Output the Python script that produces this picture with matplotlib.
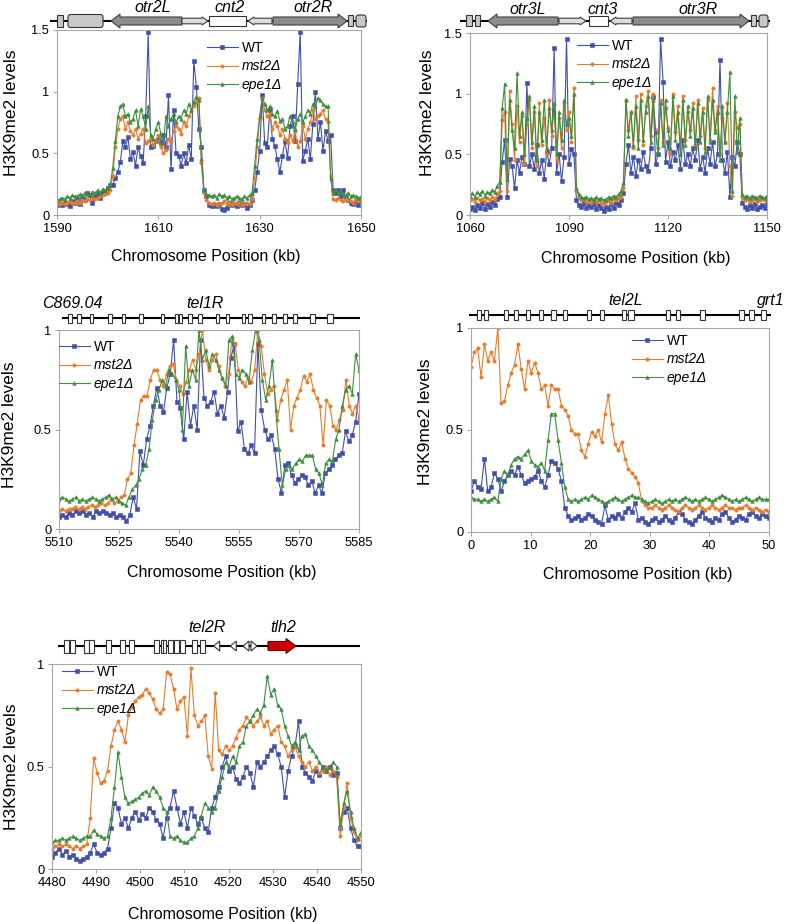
"""
H3K9me2 ChIP-chip profiles at pericentromeric and subtelomeric regions
"""

import numpy as np
import matplotlib
matplotlib.use("Agg")
import matplotlib.pyplot as plt
from matplotlib.patches import Polygon, Rectangle, FancyBboxPatch

plt.rcParams["font.family"] = ["Liberation Sans", "DejaVu Sans"]

# ---------------- data (H3K9me2 levels, evenly spaced probes) ----------------
# chr2 centromere, 1590-1650 kb
P1_RANGE = (1590, 1650)
P1_WT = [
    0.08, 0.09, 0.08, 0.10, 0.09, 0.07, 0.11, 0.10, 0.13, 0.09, 0.14, 0.12, 0.18, 0.16, 0.10, 0.15, 0.17, 0.14, 0.19, 0.18, 0.22, 0.24,
    0.24, 0.30, 0.35, 0.43, 0.60, 0.55, 0.63, 0.45, 0.51, 0.40, 0.55, 0.48, 0.42, 0.80, 1.48, 0.55, 0.56, 0.60, 0.62, 0.58,
    0.65, 0.55, 0.97, 0.37, 0.85, 0.50, 0.48, 0.40, 0.50, 0.42, 0.57, 0.45, 1.25, 1.04, 0.70, 0.55, 0.20,
    0.15, 0.08, 0.07, 0.08, 0.07, 0.09, 0.05, 0.04, 0.06, 0.10, 0.08, 0.09, 0.07, 0.10, 0.08, 0.09, 0.06, 0.08, 0.12, 0.20, 0.35, 0.52,
    0.97, 0.58, 0.55, 0.86, 0.62, 0.56, 0.45, 0.35, 0.48, 0.60, 0.46, 0.72, 0.80, 0.60, 1.06, 1.48, 0.44, 0.52, 0.62, 0.45,
    0.74, 1.00, 0.62, 0.75, 0.52, 0.68, 0.60, 0.65, 0.20, 0.18, 0.20, 0.15, 0.20, 0.14, 0.12, 0.10, 0.09, 0.11, 0.08, 0.12]
P1_MST2 = [
    0.09, 0.09, 0.10, 0.09, 0.10, 0.11, 0.10, 0.10, 0.11, 0.10, 0.12, 0.11, 0.13, 0.12, 0.14, 0.13, 0.14, 0.15, 0.16, 0.17, 0.18, 0.20,
    0.32, 0.55, 0.70, 0.78, 0.80, 0.70, 0.75, 0.68, 0.65, 0.70, 0.62, 0.66, 0.70, 0.58, 0.60, 0.62, 0.57, 0.60, 0.65, 0.55,
    0.50, 0.53, 0.62, 0.60, 0.68, 0.72, 0.70, 0.66, 0.75, 0.72, 0.80, 0.84, 0.88, 0.92, 0.95, 0.42, 0.18,
    0.12, 0.10, 0.09, 0.10, 0.08, 0.09, 0.10, 0.11, 0.09, 0.10, 0.08, 0.10, 0.09, 0.10, 0.08, 0.09, 0.10, 0.09, 0.13, 0.30, 0.55, 0.78,
    0.95, 0.85, 0.80, 0.82, 0.70, 0.75, 0.72, 0.65, 0.70, 0.62, 0.58, 0.65, 0.60, 0.68, 0.55, 0.60, 0.72, 0.62, 0.70, 0.75,
    0.85, 0.78, 0.80, 0.82, 0.85, 0.78, 0.75, 0.32, 0.13, 0.12, 0.14, 0.12, 0.11, 0.13, 0.12, 0.11, 0.10, 0.12, 0.11, 0.12]
P1_EPE1 = [
    0.12, 0.13, 0.14, 0.13, 0.15, 0.14, 0.16, 0.15, 0.15, 0.17, 0.16, 0.18, 0.17, 0.16, 0.19, 0.18, 0.20, 0.18, 0.21, 0.20, 0.22, 0.24,
    0.38, 0.60, 0.80, 0.88, 0.90, 0.80, 0.82, 0.75, 0.78, 0.85, 0.72, 0.86, 0.80, 0.70, 0.88, 0.65, 0.62, 0.70, 0.75, 0.66,
    0.58, 0.80, 0.72, 0.78, 0.82, 0.75, 0.80, 0.78, 0.85, 0.82, 0.90, 0.85, 0.92, 0.96, 0.93, 0.45, 0.20,
    0.17, 0.16, 0.15, 0.16, 0.14, 0.17, 0.15, 0.16, 0.14, 0.15, 0.13, 0.14, 0.15, 0.14, 0.13, 0.15, 0.14, 0.16, 0.18, 0.40, 0.62, 0.80,
    0.95, 0.90, 0.85, 0.88, 0.82, 0.80, 0.84, 0.76, 0.78, 0.70, 0.72, 0.80, 0.75, 0.70, 0.78, 0.82, 0.75, 0.80, 0.85, 0.82,
    0.90, 0.88, 0.95, 0.93, 0.90, 0.88, 0.88, 0.30, 0.18, 0.20, 0.18, 0.19, 0.17, 0.16, 0.18, 0.15, 0.16, 0.15, 0.14, 0.15]

# chr3 centromere, 1060-1150 kb
P2_RANGE = (1060, 1150)
P2_WT = [
    0.05, 0.07, 0.04, 0.08, 0.06, 0.10, 0.05, 0.09, 0.07, 0.11, 0.08, 0.13, 0.15,
    0.44, 0.62, 0.15, 0.46, 0.40, 0.22, 0.45, 0.35, 0.48, 0.42,
    1.09, 0.40, 0.50, 0.38, 0.58, 0.35, 0.45, 0.30, 0.52, 0.42,
    0.55, 1.38, 0.35, 0.50, 0.28, 0.48, 1.45, 0.42, 0.54, 0.50,
    0.12, 0.08, 0.07, 0.10, 0.06, 0.08, 0.07, 0.09, 0.05, 0.08, 0.06, 0.03, 0.07, 0.05, 0.09, 0.06, 0.10, 0.08, 0.12, 0.18,
    0.42, 0.58, 0.35, 0.48, 0.32, 0.45, 0.38, 0.52, 0.40, 0.36,
    0.55, 0.97, 0.42, 0.50, 1.45, 1.10, 0.44, 0.60, 0.40, 0.52,
    0.45, 0.58, 0.38, 0.62, 0.42, 0.50, 0.40, 0.55, 0.45, 0.62,
    0.38, 0.48, 0.35, 0.55, 0.42, 0.60, 0.40, 0.50, 1.28, 0.45,
    0.35, 0.52, 0.15, 0.48, 0.40, 0.60, 0.50,
    0.10, 0.07, 0.05, 0.08, 0.06, 0.09, 0.05, 0.07, 0.08, 0.06, 0.09]
P2_MST2 = [
    0.12, 0.13, 0.11, 0.14, 0.12, 0.13, 0.11, 0.14, 0.12, 0.15, 0.13, 0.17, 0.20,
    0.78, 0.85, 0.20, 1.02, 0.75, 0.45, 0.90, 0.60, 0.82, 0.42,
    0.75, 0.95, 0.55, 0.85, 0.40, 0.92, 0.58, 0.80, 0.50, 0.95,
    0.65, 0.88, 0.45, 0.80, 0.55, 0.92, 0.70, 0.85, 0.60, 1.05,
    0.20, 0.15, 0.12, 0.13, 0.11, 0.12, 0.10, 0.13, 0.11, 0.12, 0.10, 0.09, 0.11, 0.12, 0.10, 0.13, 0.12, 0.14, 0.15, 0.22,
    0.95, 0.70, 0.85, 0.55, 0.98, 0.62, 1.00, 0.58, 0.90, 1.02,
    0.65, 1.00, 0.70, 0.55, 0.95, 0.60, 0.88, 0.72, 0.50, 1.00,
    0.68, 0.90, 0.55, 0.98, 0.62, 0.85, 0.70, 0.92, 0.58, 0.95,
    0.65, 0.88, 0.55, 0.95, 0.62, 1.05, 0.70, 0.90, 0.50, 0.80,
    0.60, 0.92, 0.40, 0.16, 0.85, 0.72, 0.75,
    0.15, 0.12, 0.13, 0.11, 0.12, 0.13, 0.11, 0.12, 0.13, 0.12, 0.13]
P2_EPE1 = [
    0.16, 0.18, 0.15, 0.19, 0.17, 0.20, 0.16, 0.19, 0.18, 0.21, 0.19, 0.24, 0.27,
    0.88, 1.08, 0.30, 0.95, 0.70, 0.55, 1.17, 0.65, 0.85, 0.50,
    0.80, 0.98, 0.60, 0.90, 0.45, 0.85, 0.62, 0.95, 0.55, 0.88,
    0.70, 0.92, 0.50, 0.85, 0.62, 0.95, 0.75, 0.80, 0.65, 1.00,
    0.22, 0.17, 0.15, 0.14, 0.15, 0.13, 0.14, 0.12, 0.15, 0.13, 0.14, 0.12, 0.13, 0.15, 0.14, 0.16, 0.15, 0.17, 0.20, 0.26,
    0.95, 0.65, 0.85, 0.58, 0.90, 0.55, 0.95, 0.62, 0.85, 0.98,
    0.60, 0.95, 0.68, 0.50, 0.92, 0.58, 0.95, 0.70, 0.55, 0.98,
    0.62, 0.85, 0.50, 0.95, 0.58, 0.90, 0.65, 0.88, 0.55, 0.92,
    0.60, 0.85, 0.52, 0.98, 0.60, 0.95, 0.68, 0.85, 0.45, 0.90,
    0.60, 0.85, 1.18, 0.20, 0.98, 0.52, 0.80,
    0.17, 0.15, 0.16, 0.14, 0.16, 0.15, 0.14, 0.16, 0.15, 0.14, 0.16]

# tel1R, 5510-5585 kb
P3_RANGE = (5510, 5585)
P3_WT = [
    0.06, 0.07, 0.06, 0.08, 0.07, 0.09, 0.08, 0.09, 0.07, 0.08, 0.06, 0.09, 0.08, 0.09, 0.08, 0.07, 0.08, 0.06, 0.07, 0.06, 0.04, 0.07,
    0.16, 0.10, 0.39, 0.32, 0.45, 0.52, 0.62, 0.71, 0.62, 0.59, 0.71, 0.78,
    0.95, 0.64, 0.61, 0.45, 0.69, 0.52, 0.62, 0.50, 0.95, 0.66,
    0.62, 0.64, 0.69, 0.58, 0.62, 0.56, 0.69, 0.86, 0.93, 0.49,
    0.54, 0.40, 0.38, 0.42, 0.38, 0.93, 0.60, 0.50, 0.45, 0.47,
    0.40, 0.25, 0.18, 0.32, 0.33, 0.27, 0.23, 0.25, 0.27, 0.26,
    0.22, 0.24, 0.18, 0.22, 0.18, 0.28, 0.30, 0.32, 0.35, 0.37,
    0.38, 0.49, 0.44, 0.47, 0.54, 0.68]
P3_MST2 = [
    0.09, 0.10, 0.09, 0.10, 0.10, 0.11, 0.10, 0.11, 0.10, 0.11, 0.12, 0.11, 0.12, 0.13, 0.12, 0.13, 0.15, 0.13, 0.14, 0.16,
    0.17, 0.25, 0.28, 0.42, 0.53, 0.65, 0.67, 0.67, 0.75, 0.80,
    0.80, 0.75, 0.72, 0.78, 0.82, 0.83, 0.75, 0.72, 0.68, 0.74,
    0.80, 0.85, 0.80, 0.88, 1.00, 0.85, 0.80, 0.85, 0.88, 0.82,
    0.76, 0.72, 0.78, 0.95, 0.93, 0.80, 0.74, 0.72, 0.76, 0.74,
    0.80, 1.00, 0.92, 0.78, 0.68, 0.70, 0.72, 0.55, 0.65, 0.70,
    0.75, 0.50, 0.62, 0.66, 0.70, 0.77, 0.74, 0.78, 0.70, 0.66,
    0.62, 0.42, 0.65, 0.62, 0.52, 0.50, 0.55, 0.60, 0.75, 0.62,
    0.58, 0.62, 0.56]
P3_EPE1 = [
    0.15, 0.16, 0.15, 0.14, 0.15, 0.16, 0.14, 0.15, 0.14, 0.15, 0.16, 0.15, 0.14, 0.15, 0.16, 0.17, 0.15, 0.16, 0.14, 0.13,
    0.12, 0.16, 0.20, 0.22, 0.25, 0.30, 0.32, 0.40, 0.55, 0.65,
    0.70, 0.75, 0.72, 0.80, 0.78, 0.75, 0.70, 0.50, 0.92, 0.72,
    0.80, 0.75, 1.00, 0.85, 0.90, 0.82, 0.88, 0.85, 0.80, 0.76,
    0.72, 0.95, 0.97, 0.78, 0.76, 0.80, 0.78, 0.74, 0.90,
    1.00, 0.95, 0.75, 0.65, 0.72, 0.85, 0.60, 0.40, 0.22, 0.30,
    0.32, 0.30, 0.33, 0.35, 0.34, 0.37, 0.37, 0.37, 0.30, 0.28,
    0.22, 0.33, 0.35, 0.34, 0.45, 0.50, 0.62, 0.70, 0.72, 0.68,
    0.88, 0.80]

# tel2L, 0-50 kb
P4_RANGE = (0, 50)
P4_WT = [
    0.20, 0.25, 0.22, 0.21, 0.36, 0.20, 0.22, 0.29, 0.26, 0.20,
    0.25, 0.28, 0.30, 0.28, 0.32, 0.28, 0.24, 0.25, 0.26, 0.27,
    0.30, 0.25, 0.22, 0.28, 0.35, 0.34, 0.31, 0.25, 0.12, 0.08,
    0.06, 0.07, 0.08, 0.06, 0.07, 0.09, 0.08, 0.06, 0.05, 0.04,
    0.13, 0.06, 0.08, 0.07, 0.09, 0.07, 0.10, 0.12, 0.10, 0.14,
    0.06, 0.07, 0.05, 0.04, 0.06,
    0.07, 0.05, 0.06, 0.08, 0.06, 0.05, 0.07, 0.10, 0.09, 0.06,
    0.05, 0.04, 0.06, 0.08, 0.10, 0.07, 0.06, 0.05, 0.07, 0.06,
    0.09, 0.10, 0.07, 0.05, 0.06, 0.08, 0.07, 0.06, 0.09, 0.10,
    0.08, 0.07, 0.09, 0.08, 0.07]
P4_MST2 = [
    0.81, 0.88, 0.90, 0.76, 0.92, 0.84, 0.88, 0.84, 1.00, 0.63,
    0.64, 0.72, 0.78, 0.82, 0.92, 0.80, 0.70, 0.84, 0.78, 0.83,
    0.78, 0.70, 0.72, 0.62, 0.72, 0.70, 0.70, 0.62, 0.60, 0.57,
    0.50, 0.48, 0.48, 0.40, 0.37, 0.43, 0.49, 0.47, 0.50, 0.44,
    0.58, 0.67, 0.53, 0.43, 0.40, 0.44, 0.36, 0.31, 0.29, 0.27,
    0.24, 0.15, 0.13, 0.12, 0.12,
    0.13, 0.12, 0.11, 0.12, 0.13, 0.12, 0.11, 0.10, 0.12, 0.13,
    0.12, 0.11, 0.12, 0.13, 0.12, 0.11, 0.12, 0.13, 0.12, 0.11,
    0.12, 0.13, 0.12, 0.12, 0.11, 0.12, 0.12, 0.13, 0.12, 0.11,
    0.12, 0.11, 0.10, 0.11, 0.10]
P4_EPE1 = [
    0.17, 0.16, 0.16, 0.15, 0.16, 0.15, 0.16, 0.17, 0.15, 0.26,
    0.30, 0.28, 0.33, 0.36, 0.37, 0.36, 0.38, 0.40, 0.35, 0.33,
    0.32, 0.34, 0.30, 0.45, 0.58, 0.58, 0.45, 0.34, 0.22, 0.16,
    0.15, 0.16, 0.15, 0.16, 0.17, 0.16, 0.18, 0.17, 0.16, 0.15,
    0.14, 0.15, 0.16, 0.17, 0.16, 0.15, 0.16, 0.17, 0.18, 0.17,
    0.17, 0.16, 0.15, 0.14, 0.15, 0.16, 0.15, 0.14, 0.15, 0.16,
    0.15, 0.16, 0.15, 0.16, 0.17, 0.16, 0.15, 0.16, 0.15, 0.16,
    0.17, 0.16, 0.15, 0.16, 0.17, 0.18, 0.17, 0.16, 0.15, 0.16,
    0.15, 0.16, 0.17, 0.16, 0.15, 0.16, 0.17, 0.16, 0.16, 0.16]

# tel2R, 4480-4550 kb
P5_RANGE = (4480, 4550)
P5_WT = [
    0.06, 0.08, 0.10, 0.07, 0.09, 0.06, 0.07, 0.05, 0.04, 0.05,
    0.06, 0.08, 0.12, 0.08, 0.07, 0.08, 0.10, 0.20, 0.32, 0.30,
    0.22, 0.25, 0.20, 0.25, 0.28, 0.24, 0.27, 0.25, 0.30, 0.28,
    0.24, 0.22, 0.15, 0.25, 0.30, 0.38, 0.30, 0.22, 0.28, 0.20,
    0.30, 0.26, 0.22, 0.25, 0.20, 0.18, 0.30, 0.35, 0.40, 0.50,
    0.55, 0.48, 0.50, 0.44, 0.42, 0.45, 0.50, 0.47, 0.40, 0.52,
    0.50, 0.52, 0.55, 0.58, 0.60, 0.56, 0.50, 0.35, 0.48, 0.55,
    0.60, 0.72, 0.50, 0.47, 0.45, 0.43, 0.48, 0.46, 0.50, 0.48,
    0.50, 0.46, 0.47, 0.20, 0.28, 0.30, 0.20, 0.14, 0.11, 0.11]
P5_MST2 = [
    0.10, 0.11, 0.12, 0.11, 0.12, 0.11, 0.10, 0.11, 0.10, 0.11,
    0.12, 0.25, 0.54, 0.47, 0.42, 0.43, 0.48, 0.60, 0.68, 0.72,
    0.68, 0.62, 0.75, 0.79, 0.82, 0.84, 0.85, 0.88, 0.86, 0.83,
    0.78, 0.76, 0.78, 0.96, 0.95, 0.88, 0.78, 0.82, 0.84, 0.65,
    0.98, 0.75, 0.70, 0.72, 0.75, 0.55, 0.49, 0.86, 0.58, 0.56,
    0.60, 0.58, 0.60, 0.64, 0.68, 0.70, 0.74, 0.72, 0.70, 0.72,
    0.74, 0.70, 0.72, 0.66, 0.68, 0.70, 0.62, 0.60, 0.55, 0.58,
    0.60, 0.55, 0.52, 0.50, 0.52, 0.48, 0.50, 0.47, 0.48, 0.50,
    0.46, 0.48, 0.45, 0.16, 0.30, 0.42, 0.25, 0.18, 0.14, 0.16]
P5_EPE1 = [
    0.13, 0.14, 0.14, 0.15, 0.14, 0.15, 0.16, 0.15, 0.14, 0.15,
    0.16, 0.16, 0.19, 0.17, 0.16, 0.15, 0.16, 0.25, 0.40, 0.57,
    0.45, 0.35, 0.32, 0.33, 0.34, 0.35, 0.37, 0.38, 0.36, 0.40,
    0.38, 0.35, 0.30, 0.28, 0.16, 0.15, 0.16, 0.14, 0.13, 0.13,
    0.15, 0.16, 0.20, 0.26, 0.32, 0.30, 0.28, 0.30, 0.38, 0.45,
    0.52, 0.50, 0.55, 0.52, 0.60, 0.62, 0.70, 0.72, 0.75, 0.78,
    0.76, 0.80, 0.94, 0.85, 0.88, 0.80, 0.78, 0.70, 0.65, 0.60,
    0.62, 0.58, 0.65, 0.66, 0.60, 0.58, 0.55, 0.52, 0.50, 0.48,
    0.50, 0.52, 0.50, 0.22, 0.32, 0.38, 0.28, 0.20, 0.15, 0.18]

STRAINS = ["WT", "mst2Δ", "epe1Δ"]

# ---------------- styling ----------------
W, H = 786, 922
STYLE = [("#3f4faa", "s", 2.4), ("#e57c2c", "o", 2.4), ("#3e8e3e", "^", 2.6)]
SPINE = "#a6a6a6"
DARK, LIGHT, BOXGRAY = "#8c8c8c", "#dcdcdc", "#c8c8c8"

fig = plt.figure(figsize=(W / 100, H / 100), dpi=100)


def chart(rect, xr, xticks, ymax, series, leg_px, ylab_px, xlab_px):
    l, t, r, b = rect
    ax = fig.add_axes([l / W, 1 - b / H, (r - l) / W, (b - t) / H])
    for vals, name, (color, marker, ms) in zip(series, STRAINS, STYLE):
        x = np.linspace(xr[0], xr[1], len(vals))
        ax.plot(x, vals, color=color, marker=marker, ms=ms, lw=0.8,
                mew=0.4, label=name)
    ax.set_xlim(*xr)
    ax.set_ylim(0, ymax)
    ax.set_xticks(xticks)
    yt = np.arange(0, ymax + 0.01, 0.5)
    ax.set_yticks(yt)
    ax.set_yticklabels([f"{v:g}" for v in yt])
    ax.tick_params(labelsize=9.3, length=3, width=0.8, color=SPINE, pad=2.5)
    for s in ax.spines.values():
        s.set_color(SPINE)
        s.set_linewidth(0.8)
    leg = ax.legend(loc="upper left", bbox_to_anchor=(leg_px[0] / W, 1 - leg_px[1] / H),
                    bbox_transform=fig.transFigure, frameon=False, fontsize=10,
                    handlelength=2.2, handletextpad=0.3, labelspacing=0.32,
                    borderpad=0, borderaxespad=0)
    for txt in leg.get_texts()[1:]:
        txt.set_style("italic")
    fig.text(ylab_px[0] / W, 1 - ylab_px[1] / H, "H3K9me2 levels", rotation=90,
             ha="center", va="center", fontsize=12.5)
    fig.text(xlab_px[0] / W, 1 - xlab_px[1] / H, "Chromosome Position (kb)",
             ha="center", va="center", fontsize=11.5)
    return ax


chart((57, 30, 361, 215), P1_RANGE, [1590, 1610, 1630, 1650], 1.5,
      [P1_WT, P1_MST2, P1_EPE1], (207, 41), (12, 113), (206, 257))
chart((470, 33, 767, 215), P2_RANGE, [1060, 1090, 1120, 1150], 1.5,
      [P2_WT, P2_MST2, P2_EPE1], (577, 39), (427, 113), (636, 258))
chart((59, 330, 359, 529), P3_RANGE, list(range(5510, 5586, 15)), 1.0,
      [P3_WT, P3_MST2, P3_EPE1], (59, 340), (10, 425), (222, 573))
chart((471, 328, 769, 532), P4_RANGE, list(range(0, 51, 10)), 1.0,
      [P4_WT, P4_MST2, P4_EPE1], (632, 334), (426, 422), (638, 574))
chart((52, 664, 361, 869), P5_RANGE, list(range(4480, 4551, 10)), 1.0,
      [P5_WT, P5_MST2, P5_EPE1], (62, 665), (12, 767), (223, 914))

# ---------------- gene maps above the panels (pixel coordinates) ----------------
ov = fig.add_axes([0, 0, 1, 1], zorder=5)
ov.set_xlim(0, W)
ov.set_ylim(H, 0)
ov.axis("off")


def gline(x0, x1, y):
    ov.plot([x0, x1], [y, y], color="black", lw=1.5, solid_capstyle="butt", zorder=1)


def gbox(x0, x1, y, h, fc="white", rounded=False):
    if rounded:
        p = FancyBboxPatch((x0, y - h / 2), x1 - x0, h,
                           boxstyle="round,pad=0,rounding_size=2.5",
                           fc=fc, ec="#333333", lw=0.8, zorder=2)
    else:
        p = Rectangle((x0, y - h / 2), x1 - x0, h, fc=fc, ec="#333333", lw=0.8, zorder=2)
    ov.add_patch(p)


def garrow(x0, x1, y, left, fc, body, head, hlen, ec="#404040"):
    if left:
        pts = [(x0, y), (x0 + hlen, y - head), (x0 + hlen, y - body), (x1, y - body),
               (x1, y + body), (x0 + hlen, y + body), (x0 + hlen, y + head)]
    else:
        pts = [(x1, y), (x1 - hlen, y - head), (x1 - hlen, y - body), (x0, y - body),
               (x0, y + body), (x1 - hlen, y + body), (x1 - hlen, y + head)]
    ov.add_patch(Polygon(pts, closed=True, fc=fc, ec=ec, lw=0.8, zorder=2))


def glabel(x, y, s, ha="center"):
    ov.text(x, y, s, ha=ha, va="center", fontsize=11.5, style="italic")


# cen2
y = 21
gline(50, 367, y)
gbox(57, 63, y, 12, BOXGRAY)
gbox(68, 103, y, 13, BOXGRAY, rounded=True)
garrow(111, 182, y, True, DARK, 4, 7, 9)
garrow(182, 208, y, False, LIGHT, 2.8, 4, 6)
gbox(209, 246, y, 10)
garrow(248, 272, y, True, LIGHT, 2.8, 4, 6)
garrow(273, 347, y, False, DARK, 4, 7, 9)
gbox(348, 353, y, 11, BOXGRAY)
gbox(356, 366, y, 12, BOXGRAY, rounded=True)
glabel(153, 8, "otr2L")
glabel(230, 8, "cnt2")
glabel(313, 8, "otr2R")

# cen3
y = 21
gline(460, 770, y)
gbox(466, 472, y, 11, BOXGRAY)
gbox(475, 480, y, 11, BOXGRAY)
garrow(488, 558, y, True, DARK, 4, 7, 9)
garrow(559, 586, y, False, LIGHT, 2.8, 4, 6)
gbox(589, 608, y, 10)
garrow(610, 632, y, True, LIGHT, 2.8, 4, 6)
garrow(633, 749, y, False, DARK, 4, 7, 9)
gbox(751, 756, y, 11, BOXGRAY)
gbox(759, 768, y, 12, BOXGRAY, rounded=True)
glabel(528, 9, "otr3L")
glabel(603, 9, "cnt3")
glabel(698, 9, "otr3R")

# tel1R
y = 318
gline(62, 360, y)
for cx, w in [(70, 3.5), (79, 3.5), (91.7, 3.5), (110, 3.5), (123.3, 3.5), (141, 3.5),
              (162.7, 3.5), (176.7, 3), (180, 3), (190, 3.5), (200, 4.5), (217.3, 3.5),
              (227.3, 3.5), (243.3, 3.5), (250, 3.5), (263.3, 3.5), (274, 3.5),
              (285, 3.5), (295, 3.5), (312.7, 5), (330, 5.5)]:
    gbox(cx - w / 2, cx + w / 2, y, 9)
ov.text(42, 303, "C869.04", ha="left", va="center", fontsize=11.5, style="italic")
glabel(205, 303, "tel1R")

# tel2L
y = 315
gline(469, 771, y)
for cx, w in [(479, 4), (486.3, 4), (505.7, 4), (515.7, 4), (528, 4), (541.3, 4),
              (553.7, 5), (564.7, 4), (589, 4), (602.3, 4), (623.7, 4), (631.3, 6),
              (668.3, 4), (678.3, 4), (702.3, 5), (741.3, 5.5), (751.3, 5), (763.7, 5)]:
    gbox(cx - w / 2, cx + w / 2, y, 10)
glabel(626, 300, "tel2L")
glabel(785, 300, "grt1", ha="right")

# tel2R
y = 646
gline(58, 360, y)
for cx, w in [(66.7, 5), (72.7, 5), (86, 5), (91.7, 5), (108.3, 5), (122.7, 5), (131, 5),
              (156.7, 5), (162.3, 2.5), (164.7, 2.5), (170, 5), (176.7, 5), (182.7, 5),
              (194.3, 5), (202.7, 5)]:
    gbox(cx - w / 2, cx + w / 2, y, 13)
for cx in [216.7, 233.3, 246]:
    ov.add_patch(Polygon([(cx - 3, y), (cx + 3, y - 5), (cx + 3, y + 5)], closed=True,
                         fc="white", ec="#333333", lw=0.8, zorder=2))
ov.add_patch(Polygon([(257, y), (251, y - 5), (251, y + 5)], closed=True,
                     fc="white", ec="#333333", lw=0.8, zorder=2))
garrow(268, 296, y, False, "#cc0000", 4.5, 7.5, 10, ec="#700000")
glabel(207, 627, "tel2R")
glabel(283, 627, "tlh2")

fig.savefig("out.png", dpi=100)
